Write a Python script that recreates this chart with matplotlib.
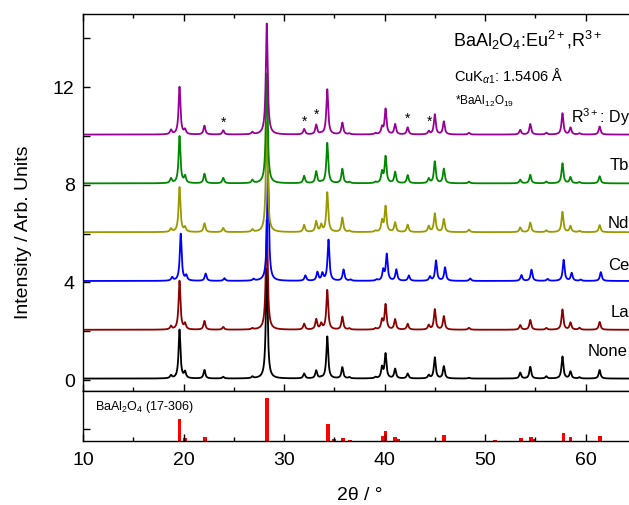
import numpy as np
import matplotlib
matplotlib.use('Agg')
from matplotlib import pyplot as plt

plt.rcParams['font.family'] = ['Liberation Sans', 'DejaVu Sans']
plt.rcParams['mathtext.fontset'] = 'custom'
plt.rcParams['mathtext.rm'] = 'Liberation Sans'
plt.rcParams['mathtext.it'] = 'Liberation Sans:italic'

# peak positions (2theta)
peak_pos = [18.75, 19.6, 20.15, 22.08, 23.95, 26.85, 28.28, 32.0, 33.2, 33.7,
            34.3, 35.8, 36.5, 39.1, 39.75, 40.1, 41.05, 42.3, 44.4, 45.0,
            45.9, 48.4, 53.5, 54.5, 56.1, 57.7, 58.5, 59.4, 61.4]

# peak heights above each baseline, one list per sample
h_none = [0.12, 2.0, 0.25, 0.35, 0.07, 0.07, 4.5, 0.20, 0.32, 0.03,
          1.72, 0.46, 0.05, 0.05, 0.44, 1.0, 0.39, 0.20, 0.13, 0.86,
          0.50, 0.03, 0.24, 0.48, 0.09, 0.90, 0.28, 0.05, 0.35]
h_la   = [0.14, 2.0, 0.23, 0.36, 0.11, 0.05, 4.5, 0.24, 0.42, 0.23,
          1.62, 0.53, 0.05, 0.05, 0.38, 1.02, 0.42, 0.24, 0.18, 0.83,
          0.55, 0.08, 0.19, 0.40, 0.07, 0.83, 0.29, 0.08, 0.32]
h_ce   = [0.14, 1.93, 0.20, 0.30, 0.11, 0.07, 4.5, 0.22, 0.35, 0.29,
          1.68, 0.46, 0.05, 0.05, 0.42, 1.08, 0.46, 0.22, 0.17, 0.83,
          0.55, 0.10, 0.24, 0.46, 0.08, 0.86, 0.32, 0.05, 0.36]
h_nd   = [0.14, 1.84, 0.18, 0.36, 0.17, 0.10, 4.5, 0.29, 0.43, 0.28,
          1.62, 0.59, 0.05, 0.05, 0.45, 1.04, 0.39, 0.30, 0.24, 0.76,
          0.53, 0.10, 0.19, 0.39, 0.07, 0.83, 0.25, 0.05, 0.29]
h_tb   = [0.19, 1.93, 0.28, 0.39, 0.22, 0.13, 4.5, 0.30, 0.48, 0.03,
          1.65, 0.59, 0.05, 0.05, 0.45, 1.08, 0.46, 0.33, 0.19, 0.89,
          0.59, 0.07, 0.15, 0.35, 0.07, 0.82, 0.25, 0.05, 0.29]
h_dy   = [0.18, 1.95, 0.18, 0.36, 0.17, 0.09, 4.55, 0.22, 0.39, 0.03,
          1.85, 0.48, 0.04, 0.05, 0.28, 1.04, 0.42, 0.29, 0.13, 0.82,
          0.53, 0.07, 0.19, 0.43, 0.07, 0.87, 0.28, 0.05, 0.33]

samples = ['None', 'La', 'Ce', 'Nd', 'Tb', 'Dy']
heights = [h_none, h_la, h_ce, h_nd, h_tb, h_dy]
offsets = [0, 2, 4, 6, 8, 10]
shifts = [0, 0, 0.12, 0, 0, 0]      # Ce pattern sits slightly to the right
colors = ['black', '#8B0000', '#0000FF', '#999900', '#008800', '#990099']

# impurity peaks (BaAl12O19) marked with *
star_pos = [23.95, 32.0, 33.25, 42.3, 44.45]
star_y = [10.55, 10.6, 10.86, 10.7, 10.6]

# reference card BaAl2O4 (17-306)
ref_pos = [19.6, 20.15, 22.1, 28.28, 34.35, 35.0, 35.85, 36.6, 39.8, 40.1,
           41.05, 41.35, 45.9, 51.0, 53.55, 54.55, 54.9, 57.8, 58.5, 61.45]
ref_int = [51, 7, 9, 100, 40, 5, 7, 3, 12, 23,
           9, 5, 14, 3, 7, 9, 5, 19, 9, 12]

tt = np.linspace(10, 70, 6001)

fig = plt.figure(figsize=(6.29, 5.05), dpi=100)
ax = fig.add_axes([0.132, 0.2257, 0.9587, 0.7465])
ax2 = fig.add_axes([0.132, 0.1267, 0.9587, 0.099], sharex=ax)

for name, h, off, sh, c in zip(samples, heights, offsets, shifts, colors):
    y = np.full_like(tt, off + 0.06)
    for p, hh in zip(peak_pos, h):
        y += hh / (1 + ((tt - p - sh) / 0.11) ** 2)
    ax.plot(tt, y, color=c, lw=1.3)

for x, y in zip(star_pos, star_y):
    ax.text(x, y, '*', ha='center', va='center', fontsize=10)

ax.text(46.8, 13.93, r'BaAl$_2$O$_4$:Eu$^{2+}$,R$^{3+}$', fontsize=13, va='center')
ax.text(46.9, 12.46, r'CuK$_{\alpha1}$: 1.5406 $\mathregular{\AA}$', fontsize=10.5, va='center')
ax.text(47.0, 11.4, r'*BaAl$_{12}$O$_{19}$', fontsize=8.5, va='center')
ax.text(58.55, 10.78, r'R$^{3+}$: Dy', fontsize=11.5, va='center')
ax.text(62.44, 8.81, 'Tb', fontsize=12, va='center')
ax.text(62.24, 6.43, 'Nd', fontsize=12, va='center')
ax.text(62.24, 4.71, 'Ce', fontsize=12, va='center')
ax.text(62.54, 2.75, 'La', fontsize=12, va='center')
ax.text(60.25, 1.15, 'None', fontsize=12, va='center')

ax.set_xlim(10, 70)
ax.set_ylim(-0.45, 15)
ax.set_yticks([0, 4, 8, 12])
ax.set_yticks([2, 6, 10, 14], minor=True)
ax.set_xticks(np.arange(10, 61, 10))
ax.set_xticks(np.arange(15, 70, 10), minor=True)
ax.tick_params(which='both', direction='in', top=True, bottom=True,
               labelbottom=False, labelsize=14, width=1, pad=6)
ax.tick_params(which='major', length=5)
ax.tick_params(which='minor', length=3)
ax.tick_params(axis='y', which='minor', length=5)
ax.set_ylabel('Intensity / Arb. Units', fontsize=14)
ax.yaxis.set_label_coords(-0.085, 0.42)

ax2.bar(ref_pos, ref_int, width=0.38, color='red')
ax2.text(11.2, 79, r'BaAl$_2$O$_4$ (17-306)', fontsize=9, va='center')
ax2.set_ylim(0, 116)
ax2.set_yticks([28])
ax2.set_yticklabels([])
ax2.tick_params(which='both', direction='in', top=False, bottom=True,
                labelsize=14, width=1, pad=8)
ax2.tick_params(which='major', length=5)
ax2.tick_params(which='minor', length=3)
ax2.set_xlabel('2θ / °', fontsize=14)
ax2.xaxis.set_label_coords(0.459, -0.92)

for a in (ax, ax2):
    for s in a.spines.values():
        s.set_linewidth(1)

fig.savefig('out.png', dpi=100)
